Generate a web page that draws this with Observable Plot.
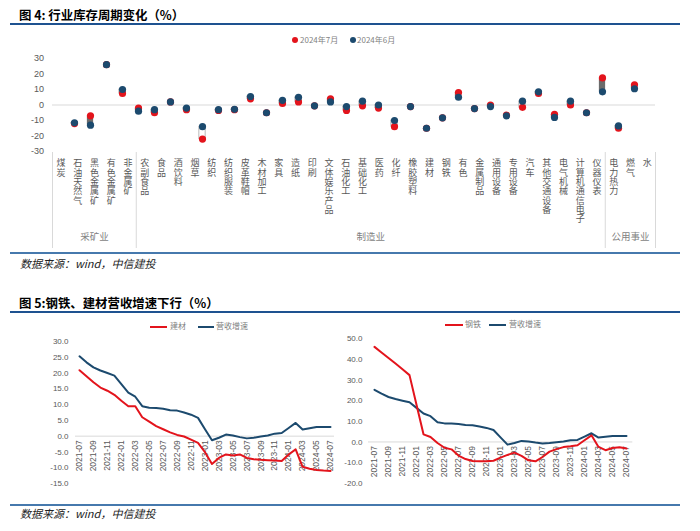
<!DOCTYPE html>
<html><head><meta charset="utf-8">
<script src="https://cdn.jsdelivr.net/npm/d3@7"></script>
<script src="https://cdn.jsdelivr.net/npm/@observablehq/plot@0.6"></script>
<style>
body{margin:0;background:#fff;}
#root{position:relative;width:700px;height:531px;overflow:hidden;font-family:"Noto Sans CJK SC","Noto Sans",sans-serif;}
.title{font-weight:bold;font-size:12.4px;color:#000;white-space:nowrap;line-height:1;}
.src{font-style:italic;font-size:11px;color:#222;white-space:nowrap;line-height:1;}
.leg{font-size:8px;color:#7f7f7f;white-space:nowrap;line-height:1;}
svg{overflow:visible;}
</style></head><body><div id="root"></div>
<script>
// ---------- Figure 4 data ----------
const categories = ["煤炭","石油天然气","黑色金属矿","有色金属矿","非金属矿",
  "农副食品","食品","酒饮料","烟草","纺织","纺织服装","皮革鞋帽","木材加工","家具","造纸","印刷","文体娱乐产品",
  "石油化工","基础化工","医药","化纤","橡胶塑料","建材","钢铁","有色","金属制品","通用设备","专用设备","汽车",
  "其他交通设备","电气机械","计算机通信电子","仪器仪表","电力热力","燃气","水"];
const jul = [-12,-7,26,7.5,-2, -5,2,-3,-22,-3.5,-3,4,-5,1,2,-0.5,4, -3.5,-0.5,-2,-14,-1,-15,-8.3,8,-2.3,0,-6.5,-1.5,7.5,-6,0,-5, 17.5,-15,13];
const jun = [-11.5,-13,26,10,-4, -3,2,-2,-14,-3,-2.8,5.5,-5,3,5,-0.5,2, -1,2.5,0,-10,-1,-15,-8.3,5,-2.3,-1,-7,2.5,8.5,-8,2.5,-5, 8.5,-13.5,10.5];
const groupNames = ["采矿业","制造业","公用事业"];
const groupSizes = [5,28,3];
const yTicks4 = [-30,-20,-10,0,10,20,30];
const legend4 = ["2024年7月","2024年6月"];

// ---------- Figure 5 data ----------
const months = ["2021-07","2021-08","2021-09","2021-10","2021-11","2021-12",
  "2022-01","2022-02","2022-03","2022-04","2022-05","2022-06","2022-07","2022-08","2022-09","2022-10","2022-11","2022-12",
  "2023-01","2023-02","2023-03","2023-04","2023-05","2023-06","2023-07","2023-08","2023-09","2023-10","2023-11","2023-12",
  "2024-01","2024-02","2024-03","2024-04","2024-05","2024-06","2024-07"];
const monthTicks = ["2021-07","2021-09","2021-11","2022-01","2022-03","2022-05","2022-07","2022-09","2022-11",
  "2023-01","2023-03","2023-05","2023-07","2023-09","2023-11","2024-01","2024-03","2024-05","2024-07"];
const rev = [25.3,23.4,21.8,20.8,20.0,19.2,16.5,13.8,12.5,9.5,9.0,8.9,8.7,8.2,8.1,7.5,6.8,5.8,2.2,-1.3,-0.5,0.5,0.2,-0.3,-0.7,-0.5,-0.1,0.2,0.8,1.0,2.6,4.2,2.1,2.5,2.9,2.9,2.9];
const jiancai = [20.9,19.0,17.1,15.4,14.4,13.1,11.2,9.5,9.5,6.0,4.6,3.2,2.2,1.2,0.4,-0.1,-1.1,-2.1,-5.1,-8.8,-6.9,-5.8,-6.1,-5.8,-6.9,-7.3,-7.5,-7.6,-7.7,-7.9,-5.8,-4.2,-9.7,-10.3,-10.7,-10.9,-11.0];
const gangtie = [46.1,43.4,40.7,38.0,35.2,32.4,18.0,3.7,2.4,-0.5,-2.8,-3.6,-6.6,-8.3,-9.2,-9.4,-9.4,-9.1,-7.6,-6.3,-5.2,-6.8,-8.9,-9.4,-7.3,-4.7,-3.5,-2.5,-2.1,-1.6,0.8,3.2,-2.4,-4.0,-2.9,-2.6,-3.2];
const yTicksL = [-15,-10,-5,0,5,10,15,20,25,30];
const yTicksR = [-20,-10,0,10,20,30,40,50];
const seriesNames = ["建材","钢铁","营收增速"];

const RED = "#e3141c", BLUE = "#1c4a6e";
const root = document.getElementById("root");
function place(el, left, top){ el.style.position="absolute"; el.style.left=left+"px"; el.style.top=top+"px"; root.appendChild(el); return el; }
function div(cls, text){ const d=document.createElement("div"); if(cls) d.className=cls; if(text!=null) d.textContent=text; return d; }
function box(w,h,bg,radius){ const d=document.createElement("div"); d.style.width=w+"px"; d.style.height=h+"px"; d.style.background=bg; if(radius) d.style.borderRadius=radius; return d; }

// titles and rules
place(div("title","图 4: 行业库存周期变化（%）"), 19, 9);
place(box(670,2,"#1e5290"), 10, 23);
place(box(670,2,"#4679ad"), 10, 252);
place(div("src","数据来源：wind，中信建投"), 20, 258);
place(div("title","图 5:钢铁、建材营收增速下行（%）"), 19, 297);
place(box(670,2,"#1e5290"), 10, 311);
place(box(670,2,"#4679ad"), 10, 504);
place(div("src","数据来源：wind，中信建投"), 20, 508);

// figure 4 legend
place(box(6,6,RED,"50%"), 292, 37);
place(div("leg",legend4[0]), 300, 36);
place(box(6,6,BLUE,"50%"), 349.5, 37);
place(div("leg",legend4[1]), 357, 36);

// figure 5 legends
place(box(17,2,RED), 150, 326);
place(div("leg",seriesNames[0]), 170, 322);
place(box(16,2,BLUE), 198, 326);
place(div("leg",seriesNames[2]), 216, 322);
place(box(18,2,RED), 445, 324);
place(div("leg",seriesNames[1]), 465, 320);
place(box(17,2,BLUE), 489, 324);
place(div("leg",seriesNames[2]), 509, 320);

// ---------- Figure 4 plot ----------
const rows = categories.map((c,i)=>({c, jul: jul[i], jun: jun[i]}));
const numStyle = {fontFamily:"'Liberation Sans', Arial, sans-serif", fontSize:"9px", color:"#595959", background:"transparent"};
const bw = 16.75, barW = 7, ins = (bw - barW)/2;
const plotA = Plot.plot({
  width:700, height:105, marginLeft:52, marginRight:45, marginTop:8, marginBottom:4,
  style: numStyle,
  x:{type:"band", domain:categories, padding:0, axis:null},
  y:{domain:[-30,30], axis:null},
  marks:[
    Plot.axisY({ticks:yTicks4, tickSize:0, tickPadding:8.5, tickFormat:d=>String(d)}),
    Plot.ruleY([0],{stroke:"#d9d9d9"}),
    Plot.barY(rows.filter(d=>d.jul>d.jun),{x:"c", y1:"jun", y2:"jul", insetLeft:ins, insetRight:ins, fill:"#6b6b6b"}),
    Plot.barY(rows.filter(d=>d.jul<d.jun),{x:"c", y1:"jun", y2:"jul", insetLeft:ins, insetRight:ins, fill:"#fff", stroke:"#a6a6a6", strokeWidth:0.8}),
    Plot.dot(rows,{x:"c", y:"jul", r:3.6, fill:RED}),
    Plot.dot(rows,{x:"c", y:"jun", r:3.6, fill:BLUE})
  ]
});
place(plotA, 0, 50);

// category axis: one text per character, stacked vertically
const charRows = categories.flatMap((c,i)=>c.split("").map((ch,j)=>({ch,i,j})));
let acc = 0;
const groups = groupNames.map((g,k)=>{ const s=acc; acc+=groupSizes[k]; return {g, s, e:acc}; });
const bounds = [0, ...groups.map(d=>d.e)];
const plotB = Plot.plot({
  width:700, height:96, marginLeft:52, marginRight:45, marginTop:0, marginBottom:0,
  style:{fontFamily:"'Noto Sans CJK SC', sans-serif", fontSize:"9px", color:"#595959", background:"transparent"},
  x:{domain:[0,categories.length], axis:null},
  y:{domain:[0,10], range:[11,104], axis:null},
  marks:[
    Plot.ruleX(bounds,{stroke:"#d9d9d9"}),
    Plot.text(charRows,{x:d=>d.i+0.5, y:"j", text:"ch", fontSize:9, fill:"#595959"}),
    Plot.text(groups,{x:d=>(d.s+d.e)/2, text:"g", frameAnchor:"bottom", dy:-9, fontSize:9.5, fill:"#7f7f7f"})
  ]
});
place(plotB, 0, 152);

// ---------- Figure 5 plots ----------
const lineRows = months.map((m,i)=>({m, rev:rev[i], jc:jiancai[i], gt:gangtie[i]}));
function linePlot(key, yDomain, yTicks, w, ml, mr, mt, mb, pad){
  return Plot.plot({
    width:w, height:175, marginLeft:ml, marginRight:mr, marginTop:mt, marginBottom:mb,
    style:{fontFamily:"'Liberation Sans', Arial, sans-serif", fontSize:"8px", color:"#595959", background:"transparent"},
    x:{type:"point", domain:months, padding:0, axis:null},
    y:{domain:yDomain, axis:null},
    marks:[
      Plot.axisY({ticks:yTicks, tickSize:0, tickPadding:pad, tickFormat:d=>d.toFixed(1)}),
      Plot.ruleY([0],{stroke:"#d9d9d9", insetLeft:-4, insetRight:-4}),
      Plot.text(monthTicks,{x:d=>d, y:0, text:d=>d, rotate:-90, textAnchor:"end", dy:4, fontSize:8.5, fill:"#595959"}),
      Plot.lineY(lineRows,{x:"m", y:"rev", stroke:BLUE, strokeWidth:2}),
      Plot.lineY(lineRows,{x:"m", y:key, stroke:RED, strokeWidth:2})
    ]
  });
}
place(linePlot("jc", [-15,30], yTicksL, 345, 79, 15, 26, 7, 11), 0, 315);
place(linePlot("gt", [-20,50], yTicksR, 360, 32, 71.7, 23.3, 7.3, 10), 340, 315);
</script></body></html>
